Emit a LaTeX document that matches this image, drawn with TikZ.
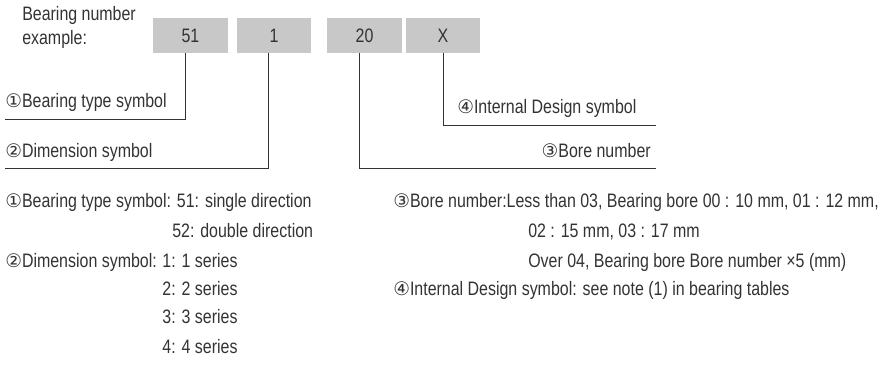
\documentclass[tikz,border=0pt]{standalone}
\usepackage{fontspec}
\setmainfont{Liberation Sans}[FakeStretch=0.82]
\newfontfamily\circfont{DejaVu Sans}
\usepackage{tikz}
\usetikzlibrary{positioning,calc}
\usepackage{xcolor}

\definecolor{boxgray}{RGB}{200,200,200}
\definecolor{inkgray}{RGB}{51,51,51}
\newcommand{\cn}[1]{{\circfont\fontsize{14}{16}\selectfont #1}}

\tikzset{
  digitbox/.style={fill=boxgray, minimum width=56pt, minimum height=26pt, inner sep=0pt, font=\fontsize{14.6}{18}\selectfont, text=inkgray},
  label/.style={anchor=base west, inner sep=0pt, font=\fontsize{14.6}{18}\selectfont, text=inkgray},
  leader/.style={draw=inkgray, line width=0.7pt}
}

\begin{document}
\begin{tikzpicture}[x=0.75pt, y=-0.75pt]
            \useasboundingbox (0,0) rectangle (886,373);

            % Bearing number example
            \node[label, align=left, anchor=north west] (lead) at (22,6) {Bearing number\\example:};
            \node[digitbox] (b51) at (190.5,35.5) {51};
            \node[digitbox] (b1) at (274,35.5) {1};
            \node[digitbox] (b20) at (364.5,35.5) {20};
            \node[digitbox] (bX) at (443,35.5) {X};

            % Leader lines and their labels
            \coordinate (e1) at (5,119);
            \coordinate (e2) at (5,168);
            \coordinate (e3) at (656,168);
            \coordinate (e4) at (656,125);
            \draw[leader] ([xshift=-4pt]b51.south) |- (e1);
            \draw[leader] ([xshift=-4.5pt]b1.south) |- (e2);
            \draw[leader] ([xshift=-3.5pt]b20.south) |- (e3);
            \draw[leader] (bX.south) |- (e4);
            \node[label] (t1) at (5,108) {\cn{①}Bearing type symbol};
            \node[label] (t2) at (5,158) {\cn{②}Dimension symbol};
            \node[label, anchor=base east] (t3) at (651,158) {\cn{③}Bore number};
            \node[label] (t4) at (457,114) {\cn{④}Internal Design symbol};

            % Notes, left column
            \node[label] (n1) at (5,208) {\cn{①}Bearing type symbol: 51: single direction};
            \node[label] (n1b) at (172,238) {52: double direction};
            \node[label] (n2) at (5,268) {\cn{②}Dimension symbol:};
            \node[label] (n2a) at ($(n2.base east)+(5,0)$) {1: 1 series};
            \node[label] (n2b) at ($(n2a.base west)+(0,28)$) {2: 2 series};
            \node[label] (n2c) at ($(n2b.base west)+(0,28)$) {3: 3 series};
            \node[label] (n2d) at ($(n2c.base west)+(0,30)$) {4: 4 series};

            % Notes, right column
            \node[label] (n3) at (393,208) {\cn{③}Bore number:Less than 03, Bearing bore 00 : 10 mm, 01 : 12 mm,};
            \node[label] (n3b) at (528,238) {02 : 15 mm, 03 : 17 mm};
            \node[label] (n3c) at ($(n3b.base west)+(0,30)$) {Over 04, Bearing bore Bore number ×5 (mm)};
            \node[label] (n4) at (393,296) {\cn{④}Internal Design symbol: see note (1) in bearing tables};
        \end{tikzpicture}
\end{document}
